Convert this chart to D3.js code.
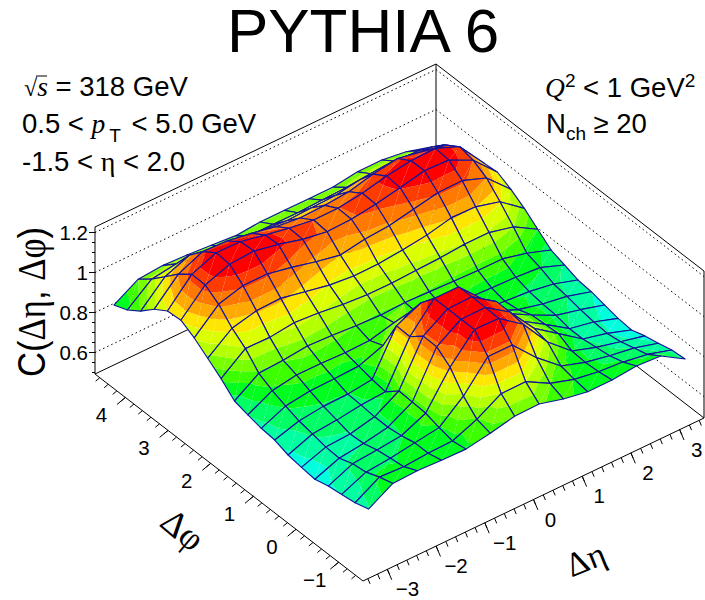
<!DOCTYPE html>
<html>
<head>
<meta charset="utf-8">
<script src="https://cdn.jsdelivr.net/npm/d3@7"></script>
<style>
body { margin: 0; background: #fff; }
text { font-family: "Liberation Sans", Arial, sans-serif; fill: #000; }
.serif { font-family: "Liberation Serif", serif; }
</style>
</head>
<body>
<svg id="chart" width="705" height="600"></svg>
<script>
// bin centres of the correlation histogram
var etaCentres = [-3.25,-2.75,-2.25,-1.75,-1.25,-0.75,-0.25,0.25,0.75,1.25,1.75,2.25,2.75,3.25];
var phiBinWidth = Math.PI / 10;
var phiCentres = d3.range(20).map(function(j) { return -Math.PI / 2 + (j + 0.5) * phiBinWidth; });

// C(deta, dphi), one row per eta bin, phi bins left to right
var corr = [
	[.797,.777,.767,.757,.739,.747,.757,.780,.787,.802,.820,.880,.930,.980,1.017,1.011,.968,.907,.861,.834],
	[.867,.847,.820,.810,.786,.790,.804,.817,.840,.865,.900,.972,1.022,1.090,1.135,1.136,1.086,1.021,.957,.905],
	[.872,.841,.831,.821,.802,.797,.815,.832,.857,.885,.907,.970,1.051,1.125,1.180,1.186,1.140,1.070,.975,.915],
	[.867,.850,.850,.834,.825,.825,.832,.835,.860,.885,.920,.985,1.055,1.125,1.188,1.183,1.135,1.040,.950,.910],
	[.864,.853,.868,.888,.892,.896,.840,.850,.865,.880,.915,.975,1.030,1.100,1.163,1.158,1.115,1.030,.945,.900],
	[.885,.903,.967,1.060,1.110,1.112,1.057,1.060,.910,.883,.905,.960,1.005,1.070,1.130,1.134,1.090,1.020,.940,.890],
	[.912,.973,1.106,1.190,1.190,1.190,1.190,1.116,1.010,.914,.900,.950,.992,1.045,1.110,1.117,1.075,1.010,.940,.900],
	[.915,.975,1.106,1.187,1.190,1.192,1.190,1.100,1.000,.900,.905,.950,.994,1.066,1.114,1.117,1.080,1.015,.940,.900],
	[.882,.908,.985,1.100,1.110,1.110,1.070,.970,.890,.875,.900,.955,1.006,1.075,1.131,1.134,1.090,1.020,.945,.900],
	[.860,.870,.885,.953,.970,.955,.940,.900,.850,.860,.895,.960,1.022,1.100,1.155,1.162,1.120,1.040,.950,.900],
	[.860,.850,.845,.850,.885,.880,.875,.850,.840,.855,.890,.970,1.050,1.124,1.182,1.180,1.140,1.050,.960,.918],
	[.872,.840,.820,.810,.800,.800,.815,.820,.830,.850,.890,.970,1.047,1.126,1.177,1.184,1.116,1.040,.965,.919],
	[.864,.820,.800,.780,.770,.775,.785,.800,.810,.840,.860,.940,1.014,1.081,1.118,1.134,1.090,1.030,.960,.902],
	[.791,.784,.766,.751,.729,.735,.750,.765,.772,.795,.818,.870,.923,.966,1.000,.993,.986,.972,.930,.867]
];

// colour bands of the surface
var bandEdges = [.728,.764,.800,.836,.872,.906,.940,.974,1.010,1.046,1.082,1.118,1.152];
var bandColours = ["#00ffff","#00ffdc","#00ffa0","#00ff64","#00ff1e","#3cff00","#78ff00","#b4ff00","#dcff00","#ffe600","#ffaa00","#ff7800","#ff3c00","#ff0000"];

var zTicks = [0.6,0.8,1,1.2];
var zMinorTicks = d3.range(0.5,1.21,0.05);
var etaTicks = [-3,-2,-1,0,1,2,3];
var etaMinorTicks = d3.range(-3.4,3.41,0.2);
var phiTicks = [-1,0,1,2,3,4];
var phiMinorTicks = d3.range(-1.4,4.61,0.2);

var svg = d3.select("#chart");

// the 3D box, as seen in the picture: front floor corner plus three axis scales
var cornerX = 363, cornerY = 581;
var etaX = d3.scaleLinear().domain([-3.5,3.5]).range([0,341]);
var etaY = d3.scaleLinear().domain([-3.5,3.5]).range([0,-163]);
var phiX = d3.scaleLinear().domain([-Math.PI/2,3*Math.PI/2]).range([0,-268]);
var phiY = d3.scaleLinear().domain([-Math.PI/2,3*Math.PI/2]).range([0,-207]);
var zY = d3.scaleLinear().domain([0.4925,1.2275]).range([0,-147]);

function project(eta,phi,z)
{
	return [cornerX + etaX(eta) + phiX(phi), cornerY + etaY(eta) + phiY(phi) + zY(z)];
}

var line = d3.line();
var etaLo = -3.5, etaHi = 3.5, phiLo = -Math.PI/2, phiHi = 3*Math.PI/2, zLo = zY.domain()[0], zHi = zY.domain()[1];

// back walls and floor
var walls = svg.append("g").attr("fill","none").attr("stroke","#000").attr("stroke-width",1);
walls.append("path").attr("d",line([project(etaLo,phiHi,zLo),project(etaLo,phiHi,zHi),project(etaHi,phiHi,zHi),project(etaHi,phiLo,zHi),project(etaHi,phiLo,zLo)]));
walls.append("path").attr("d",line([project(etaHi,phiHi,zLo),project(etaHi,phiHi,zHi)]));
walls.append("path").attr("d",line([project(etaLo,phiHi,zLo),project(etaHi,phiHi,zLo),project(etaHi,phiLo,zLo)]));

walls.selectAll("path.grid").data(zTicks).enter().append("path").classed("grid",1)
	.attr("stroke-dasharray","1.5,3")
	.attr("d",function(d)
	{
		return line([project(etaLo,phiHi,d),project(etaHi,phiHi,d),project(etaHi,phiLo,d)]);
	});

// cut a triangle into the parts lying inside one colour band
function clipZ(poly,limit,keepAbove)
{
	var out = [];
	poly.forEach(function(p,k)
	{
		var q = poly[(k + 1) % poly.length];
		var pIn = keepAbove ? p.z >= limit : p.z <= limit;
		var qIn = keepAbove ? q.z >= limit : q.z <= limit;
		if (pIn) out.push(p);
		if (pIn !== qIn)
		{
			var t = (limit - p.z) / (q.z - p.z);
			out.push({eta: p.eta + t*(q.eta - p.eta), phi: p.phi + t*(q.phi - p.phi), z: limit});
		}
	});
	return out;
}

function bandPieces(tri)
{
	var pieces = [];
	bandColours.forEach(function(colour,b)
	{
		var poly = tri;
		if (b > 0) poly = clipZ(poly,bandEdges[b-1],true);
		if (poly.length && b < bandEdges.length) poly = clipZ(poly,bandEdges[b],false);
		if (poly.length > 2) pieces.push({colour: colour, pts: poly});
	});
	return pieces;
}

function vertex(i,j)
{
	return {eta: etaCentres[i], phi: phiCentres[j], z: corr[i][j]};
}

// back to front, so nearer cells paint over farther ones
var cells = [];
for (var j = phiCentres.length - 2; j >= 0; j--)
{
	for (var i = etaCentres.length - 2; i >= 0; i--)
	{
		cells.push({a: vertex(i,j), b: vertex(i+1,j), c: vertex(i+1,j+1), d: vertex(i,j+1)});
	}
}

var cellGroups = svg.append("g").selectAll("g.cell").data(cells).enter().append("g").classed("cell",1);

cellGroups.selectAll("path.band")
	.data(function(d)
	{
		return bandPieces([d.a,d.b,d.c]).concat(bandPieces([d.a,d.c,d.d]));
	})
	.enter().append("path").classed("band",1)
	.attr("fill",function(d) { return d.colour; })
	.attr("d",function(d)
	{
		return line(d.pts.map(function(p) { return project(p.eta,p.phi,p.z); })) + "Z";
	});

cellGroups.append("path")
	.attr("fill","none")
	.attr("stroke","#14149b")
	.attr("stroke-width",1.15)
	.attr("stroke-linejoin","round")
	.attr("d",function(d)
	{
		return line([d.a,d.b,d.c,d.d].map(function(p) { return project(p.eta,p.phi,p.z); })) + "Z";
	});

// front axes
var axes = svg.append("g").attr("fill","none").attr("stroke","#000").attr("stroke-width",1);
axes.append("path").attr("d",line([project(etaLo,phiHi,zLo),project(etaLo,phiLo,zLo),project(etaHi,phiLo,zLo)]));

function tickPath(p,dx,dy)
{
	return line([p,[p[0]+dx,p[1]+dy]]);
}

axes.selectAll("path.etaTick").data(etaMinorTicks).enter().append("path").classed("etaTick",1)
	.attr("d",function(d) { return tickPath(project(d,phiLo,zLo),2.2,5.2); });
axes.selectAll("path.etaMajor").data(etaTicks).enter().append("path").classed("etaMajor",1)
	.attr("d",function(d) { return tickPath(project(d,phiLo,zLo),4.4,10.4); });
axes.selectAll("path.phiTick").data(phiMinorTicks).enter().append("path").classed("phiTick",1)
	.attr("d",function(d) { return tickPath(project(etaLo,d,zLo),-4.2,3.5); });
axes.selectAll("path.phiMajor").data(phiTicks).enter().append("path").classed("phiMajor",1)
	.attr("d",function(d) { return tickPath(project(etaLo,d,zLo),-8.4,7); });
axes.selectAll("path.zTick").data(zMinorTicks).enter().append("path").classed("zTick",1)
	.attr("d",function(d) { return tickPath(project(etaLo,phiHi,d),-3,0); });
axes.selectAll("path.zMajor").data(zTicks).enter().append("path").classed("zMajor",1)
	.attr("d",function(d) { return tickPath(project(etaLo,phiHi,d),-6,0); });

function signed(d)
{
	return d < 0 ? "\u2212" + Math.abs(d) : String(d);
}

svg.append("g").selectAll("text").data(etaTicks).enter().append("text")
	.attr("font-size",20.5)
	.attr("text-anchor","middle")
	.attr("x",function(d) { return project(d,phiLo,zLo)[0] + (d < 0 ? 20 : 17); })
	.attr("y",function(d) { return project(d,phiLo,zLo)[1] + 27; })
	.text(signed);

svg.append("g").selectAll("text").data(phiTicks).enter().append("text")
	.attr("font-size",20.5)
	.attr("text-anchor","middle")
	.attr("x",function(d) { return project(etaLo,d,zLo)[0] - 24; })
	.attr("y",function(d) { return project(etaLo,d,zLo)[1] + 25; })
	.text(signed);

svg.append("g").selectAll("text").data(zTicks).enter().append("text")
	.attr("font-size",20.5)
	.attr("text-anchor","end")
	.attr("x",88)
	.attr("y",function(d) { return project(etaLo,phiHi,d)[1] + 7.5; })
	.text(String);

// titles
svg.append("text").attr("x",363).attr("y",52).attr("text-anchor","middle").attr("font-size",62).text("PYTHIA 6");

svg.append("text").attr("transform","translate(45,302) rotate(-90)").attr("text-anchor","middle").attr("font-size",39)
	.attr("textLength",150).attr("lengthAdjust","spacingAndGlyphs")
	.html('C(<tspan class="serif">\u0394\u03b7</tspan>, <tspan class="serif">\u0394\u03c6</tspan>)');

svg.append("text").attr("class","serif").attr("transform","translate(175,539) rotate(40)").attr("text-anchor","middle").attr("font-size",36).text("\u0394\u03c6");
svg.append("text").attr("class","serif").attr("transform","translate(590,570) rotate(-22)").attr("text-anchor","middle").attr("font-size",34).text("\u0394\u03b7");

// annotation block, left
var size = 27.5;
svg.append("text").attr("x",24).attr("y",96).attr("font-size",size)
	.html('<tspan class="serif" font-size="24">\u221a</tspan><tspan class="serif" font-style="italic">s</tspan> = 318 GeV');
svg.append("line").attr("x1",36).attr("x2",47).attr("y1",76).attr("y2",76).attr("stroke","#000");
svg.append("text").attr("x",22).attr("y",133).attr("font-size",size)
	.html('0.5 &lt; <tspan class="serif" font-style="italic">p</tspan><tspan dx="4" dy="9" font-size="19">T</tspan><tspan dy="-9" dx="3"> &lt; 5.0 GeV</tspan>');
svg.append("text").attr("x",22).attr("y",171).attr("font-size",size)
	.html('-1.5 &lt; <tspan class="serif" font-size="28">\u03b7</tspan> &lt; 2.0');

// annotation block, right
svg.append("text").attr("x",545).attr("y",97).attr("font-size",size)
	.html('<tspan class="serif" font-style="italic">Q</tspan><tspan dy="-10" font-size="19">2</tspan><tspan dy="10"> &lt; 1 GeV</tspan><tspan dy="-10" font-size="19">2</tspan>');
svg.append("text").attr("x",546).attr("y",133).attr("font-size",size)
	.html('N<tspan dy="7" font-size="19">ch</tspan><tspan dy="-7"> \u2265 20</tspan>');
</script>
</body>
</html>
